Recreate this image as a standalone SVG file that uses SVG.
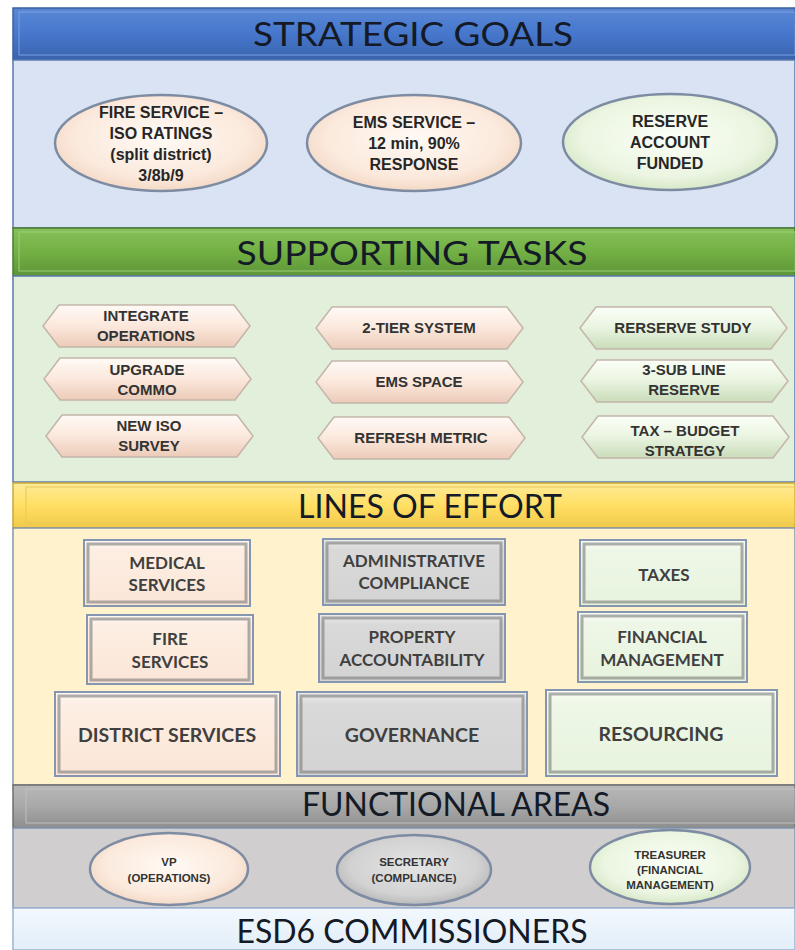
<svg xmlns="http://www.w3.org/2000/svg" xmlns:xlink="http://www.w3.org/1999/xlink" width="795" height="950" viewBox="0 0 795 950">
<defs>
<style>
.hdr{font-family:"Lato","Liberation Sans",sans-serif;font-size:32px;fill:#141a26;text-anchor:middle}
.gt{font-family:"Liberation Sans",sans-serif;font-weight:bold;font-size:16px;fill:#262626;text-anchor:middle}
.tt{font-family:"Liberation Sans",sans-serif;font-weight:bold;font-size:15px;fill:#333;text-anchor:middle}
.bt{font-family:"Lato","Liberation Sans",sans-serif;font-weight:bold;font-size:17px;fill:#404040;text-anchor:middle}
.bt2{font-family:"Lato","Liberation Sans",sans-serif;font-weight:bold;font-size:19.5px;fill:#404040;text-anchor:middle}
.ft{font-family:"Liberation Sans",sans-serif;font-weight:bold;font-size:11.5px;fill:#333;text-anchor:middle}
.ell{stroke:#7d8ca3;stroke-width:2.5}
.hex{stroke:#c4b5aa;stroke-width:1.5}
.box{stroke:#8496b0;stroke-width:2}
.shade{fill:none;stroke:#7a7a7a;stroke-opacity:0.6;stroke-width:3}
</style>
<radialGradient id="gPeach" cx="50%" cy="45%" r="55%">
<stop offset="0" stop-color="#fffaf5"/><stop offset="0.75" stop-color="#fbe9dc"/><stop offset="1" stop-color="#f3d9c6"/>
</radialGradient>
<radialGradient id="gGreen" cx="50%" cy="45%" r="55%">
<stop offset="0" stop-color="#fbfff7"/><stop offset="0.75" stop-color="#ebf5e1"/><stop offset="1" stop-color="#d7e8c8"/>
</radialGradient>
<radialGradient id="gGray" cx="50%" cy="45%" r="55%">
<stop offset="0" stop-color="#e4e4e4"/><stop offset="0.75" stop-color="#d2d2d2"/><stop offset="1" stop-color="#b9b9b9"/>
</radialGradient>
<linearGradient id="hPeach" x1="0" y1="0" x2="0" y2="1">
<stop offset="0" stop-color="#fffaf6"/><stop offset="0.5" stop-color="#fbe8dc"/><stop offset="1" stop-color="#eccbb8"/>
</linearGradient>
<linearGradient id="hGreen" x1="0" y1="0" x2="0" y2="1">
<stop offset="0" stop-color="#fbfff8"/><stop offset="0.5" stop-color="#e9f4e0"/><stop offset="1" stop-color="#c9dcb9"/>
</linearGradient>
<linearGradient id="bPeach" x1="0" y1="0" x2="0" y2="1">
<stop offset="0" stop-color="#fff9f4"/><stop offset="0.15" stop-color="#fdeee3"/><stop offset="1" stop-color="#fbe6d7"/>
</linearGradient>
<linearGradient id="bGray" x1="0" y1="0" x2="0" y2="1">
<stop offset="0" stop-color="#ececec"/><stop offset="0.15" stop-color="#d9d9d9"/><stop offset="1" stop-color="#d3d3d3"/>
</linearGradient>
<linearGradient id="bGreen" x1="0" y1="0" x2="0" y2="1">
<stop offset="0" stop-color="#fbfff8"/><stop offset="0.15" stop-color="#eef7e7"/><stop offset="1" stop-color="#e7f3de"/>
</linearGradient>
<linearGradient id="hdBlue" x1="0" y1="0" x2="0" y2="1">
<stop offset="0" stop-color="#5a88d6"/><stop offset="0.5" stop-color="#4677cc"/><stop offset="1" stop-color="#3a63ad"/>
</linearGradient>
<linearGradient id="hdGreen" x1="0" y1="0" x2="0" y2="1">
<stop offset="0" stop-color="#86c15a"/><stop offset="0.5" stop-color="#72b044"/><stop offset="1" stop-color="#5e9538"/>
</linearGradient>
<linearGradient id="hdYellow" x1="0" y1="0" x2="0" y2="1">
<stop offset="0" stop-color="#ffeb99"/><stop offset="0.5" stop-color="#ffdf63"/><stop offset="1" stop-color="#f2c94a"/>
</linearGradient>
<linearGradient id="hdGray" x1="0" y1="0" x2="0" y2="1">
<stop offset="0" stop-color="#b8b8b8"/><stop offset="0.5" stop-color="#a8a8a8"/><stop offset="1" stop-color="#8e8e8e"/>
</linearGradient>
<linearGradient id="hdLight" x1="0" y1="0" x2="0" y2="1">
<stop offset="0" stop-color="#f2f8fd"/><stop offset="1" stop-color="#e3eef9"/>
</linearGradient>
<path id="hexShape" d="M0,21 L16,0 L191,0 L207,21 L191,42 L16,42 Z"/>
</defs>

<rect x="0" y="0" width="795" height="950" fill="#ffffff"/>

<!-- Section bands -->
<g id="strategic-goals-band">
<rect x="13" y="8" width="782" height="52" fill="url(#hdBlue)" stroke="#3c5f9e" stroke-width="1.5"/>
<rect x="19" y="12" width="776" height="43" fill="none" stroke="#7aa0e0" stroke-width="1"/>
<text class="hdr" x="413" y="46" textLength="320" lengthAdjust="spacingAndGlyphs">STRATEGIC GOALS</text>
<rect x="13" y="60" width="782" height="168" fill="#dae3f3" stroke="#5b7bb0" stroke-width="1.5"/>
</g>
<g id="supporting-tasks-band">
<rect x="13" y="228" width="782" height="48" fill="url(#hdGreen)" stroke="#4d7a35" stroke-width="1.5"/>
<rect x="19" y="232" width="776" height="39" fill="none" stroke="#9ccf78" stroke-width="1"/>
<text class="hdr" x="412" y="265" textLength="351" lengthAdjust="spacingAndGlyphs">SUPPORTING TASKS</text>
<rect x="13" y="276" width="782" height="206" fill="#e2efda" stroke="#5b7bb0" stroke-width="1.5"/>
</g>
<g id="lines-of-effort-band">
<rect x="13" y="483" width="782" height="45" fill="url(#hdYellow)" stroke="#c9a93a" stroke-width="1.5"/>
<rect x="26" y="487" width="769" height="36" fill="none" stroke="#e6c75a" stroke-width="1"/>
<text class="hdr" x="430" y="518" font-size="29" textLength="264" lengthAdjust="spacingAndGlyphs">LINES OF EFFORT</text>
<rect x="13" y="528" width="782" height="257" fill="#fff2cc" stroke="#8496b0" stroke-width="1.5"/>
</g>
<g id="functional-areas-band">
<rect x="13" y="785" width="782" height="43" fill="url(#hdGray)" stroke="#6f6f6f" stroke-width="1.5"/>
<rect x="26" y="789" width="769" height="34" fill="none" stroke="#bfbfbf" stroke-width="1"/>
<text class="hdr" x="456" y="816" font-size="29" textLength="308" lengthAdjust="spacingAndGlyphs">FUNCTIONAL AREAS</text>
<rect x="13" y="828" width="782" height="80" fill="#d0cece" stroke="#8496b0" stroke-width="1.5"/>
</g>
<g id="commissioners-band">
<rect x="13" y="908" width="782" height="42" fill="url(#hdLight)" stroke="#9db3cf" stroke-width="1.5"/>
<text class="hdr" x="412" y="943" font-size="30" textLength="351" lengthAdjust="spacingAndGlyphs">ESD6 COMMISSIONERS</text>
</g>

<!-- Strategic goals -->
<g id="goal-fire">
<ellipse class="ell" cx="161" cy="143" rx="106" ry="48" fill="url(#gPeach)"/>
<text class="gt" x="161" y="118">FIRE SERVICE –</text>
<text class="gt" x="161" y="139">ISO RATINGS</text>
<text class="gt" x="161" y="160">(split district)</text>
<text class="gt" x="161" y="181">3/8b/9</text>
</g>
<g id="goal-ems">
<ellipse class="ell" cx="414" cy="143" rx="107" ry="48" fill="url(#gPeach)"/>
<text class="gt" x="414" y="128">EMS SERVICE –</text>
<text class="gt" x="414" y="149">12 min, 90%</text>
<text class="gt" x="414" y="170">RESPONSE</text>
</g>
<g id="goal-reserve">
<ellipse class="ell" cx="670" cy="142" rx="107" ry="48" fill="url(#gGreen)"/>
<text class="gt" x="670" y="127">RESERVE</text>
<text class="gt" x="670" y="148">ACCOUNT</text>
<text class="gt" x="670" y="169">FUNDED</text>
</g>

<!-- Supporting tasks -->
<g id="task-integrate-operations">
<use xlink:href="#hexShape" class="hex" x="43" y="305" fill="url(#hPeach)"/>
<text class="tt" x="146" y="321">INTEGRATE</text>
<text class="tt" x="146" y="341">OPERATIONS</text>
</g>
<g id="task-upgrade-commo">
<use xlink:href="#hexShape" class="hex" x="44" y="358" fill="url(#hPeach)"/>
<text class="tt" x="147" y="375">UPGRADE</text>
<text class="tt" x="147" y="395">COMMO</text>
</g>
<g id="task-new-iso-survey">
<use xlink:href="#hexShape" class="hex" x="46" y="415" fill="url(#hPeach)"/>
<text class="tt" x="149" y="431">NEW ISO</text>
<text class="tt" x="149" y="451">SURVEY</text>
</g>
<g id="task-2-tier-system">
<use xlink:href="#hexShape" class="hex" x="316" y="307" fill="url(#hPeach)"/>
<text class="tt" x="419" y="333">2-TIER SYSTEM</text>
</g>
<g id="task-ems-space">
<use xlink:href="#hexShape" class="hex" x="316" y="361" fill="url(#hPeach)"/>
<text class="tt" x="419" y="387">EMS SPACE</text>
</g>
<g id="task-refresh-metric">
<use xlink:href="#hexShape" class="hex" x="318" y="417" fill="url(#hPeach)"/>
<text class="tt" x="421" y="443">REFRESH METRIC</text>
</g>
<g id="task-reserve-study">
<use xlink:href="#hexShape" class="hex" x="580" y="307" fill="url(#hGreen)"/>
<text class="tt" x="683" y="333">RERSERVE STUDY</text>
</g>
<g id="task-3-sub-line-reserve">
<use xlink:href="#hexShape" class="hex" x="581" y="360" fill="url(#hGreen)"/>
<text class="tt" x="684" y="375">3-SUB LINE</text>
<text class="tt" x="684" y="395">RESERVE</text>
</g>
<g id="task-tax-budget-strategy">
<use xlink:href="#hexShape" class="hex" x="582" y="416" fill="url(#hGreen)"/>
<text class="tt" x="685" y="436">TAX – BUDGET</text>
<text class="tt" x="685" y="456">STRATEGY</text>
</g>

<!-- Lines of effort -->
<g id="loe-medical-services">
<rect class="box" x="84" y="540" width="166" height="66" fill="url(#bPeach)"/>
<rect class="shade" x="88" y="544" width="158" height="58"/>
<text class="bt" x="167" y="569">MEDICAL</text>
<text class="bt" x="167" y="591">SERVICES</text>
</g>
<g id="loe-fire-services">
<rect class="box" x="87" y="615" width="166" height="69" fill="url(#bPeach)"/>
<rect class="shade" x="91" y="619" width="158" height="61"/>
<text class="bt" x="170" y="645">FIRE</text>
<text class="bt" x="170" y="668">SERVICES</text>
</g>
<g id="loe-district-services">
<rect class="box" x="55" y="692" width="225" height="84" fill="url(#bPeach)"/>
<rect class="shade" x="59" y="696" width="217" height="76"/>
<text class="bt2" x="167" y="742">DISTRICT SERVICES</text>
</g>
<g id="loe-administrative-compliance">
<rect class="box" x="323" y="539" width="182" height="66" fill="url(#bGray)"/>
<rect class="shade" x="327" y="543" width="174" height="58"/>
<text class="bt" x="414" y="567">ADMINISTRATIVE</text>
<text class="bt" x="414" y="589">COMPLIANCE</text>
</g>
<g id="loe-property-accountability">
<rect class="box" x="319" y="614" width="186" height="68" fill="url(#bGray)"/>
<rect class="shade" x="323" y="618" width="178" height="60"/>
<text class="bt" x="412" y="643">PROPERTY</text>
<text class="bt" x="412" y="666">ACCOUNTABILITY</text>
</g>
<g id="loe-governance">
<rect class="box" x="297" y="692" width="230" height="84" fill="url(#bGray)"/>
<rect class="shade" x="301" y="696" width="222" height="76"/>
<text class="bt2" x="412" y="742">GOVERNANCE</text>
</g>
<g id="loe-taxes">
<rect class="box" x="580" y="540" width="166" height="66" fill="url(#bGreen)"/>
<rect class="shade" x="584" y="544" width="158" height="58"/>
<text class="bt" x="664" y="581">TAXES</text>
</g>
<g id="loe-financial-management">
<rect class="box" x="578" y="612" width="169" height="70" fill="url(#bGreen)"/>
<rect class="shade" x="582" y="616" width="161" height="62"/>
<text class="bt" x="662" y="643">FINANCIAL</text>
<text class="bt" x="662" y="666">MANAGEMENT</text>
</g>
<g id="loe-resourcing">
<rect class="box" x="546" y="690" width="231" height="86" fill="url(#bGreen)"/>
<rect class="shade" x="550" y="694" width="223" height="78"/>
<text class="bt2" x="661" y="741">RESOURCING</text>
</g>

<!-- Functional areas -->
<g id="fa-vp">
<ellipse class="ell" cx="169" cy="869" rx="79" ry="36" fill="url(#gPeach)"/>
<text class="ft" x="169" y="866">VP</text>
<text class="ft" x="169" y="882">(OPERATIONS)</text>
</g>
<g id="fa-secretary">
<ellipse class="ell" cx="414" cy="870" rx="77" ry="35" fill="url(#gGray)"/>
<text class="ft" x="414" y="866">SECRETARY</text>
<text class="ft" x="414" y="882">(COMPLIANCE)</text>
</g>
<g id="fa-treasurer">
<ellipse class="ell" cx="670" cy="867" rx="80" ry="37" fill="url(#gGreen)"/>
<text class="ft" x="670" y="859">TREASURER</text>
<text class="ft" x="670" y="874">(FINANCIAL</text>
<text class="ft" x="670" y="889">MANAGEMENT)</text>
</g>

<g id="connectors"></g>
</svg>
